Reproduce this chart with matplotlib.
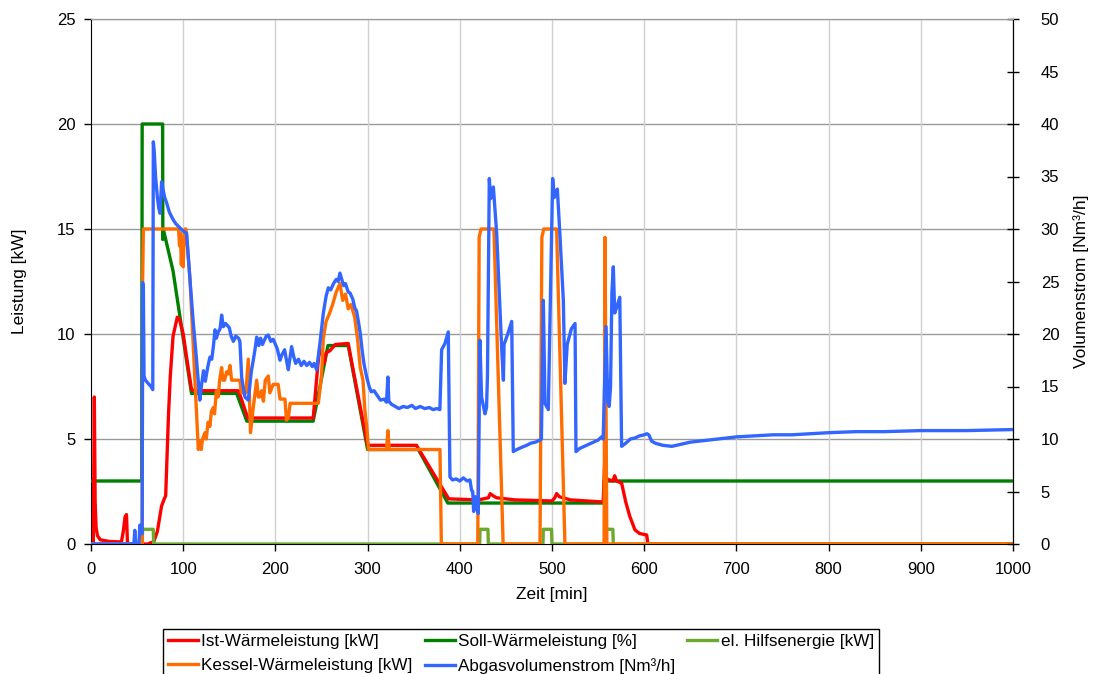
import matplotlib
matplotlib.use("Agg")
import matplotlib.pyplot as plt

plt.rcParams['font.family'] = ['Liberation Sans', 'DejaVu Sans']
plt.rcParams['font.size'] = 12

# Ist-Wärmeleistung [kW]
ist_t = [0, 2.5, 3.6, 4.5, 5.5, 7, 10, 20, 33, 35, 37, 38.5, 39.5, 41, 62, 64, 68, 72, 76.5, 79, 81, 84,
         86, 89, 93.6, 96, 100, 104, 109, 112, 160, 170, 241, 246, 248, 251, 253, 255, 259, 265, 279, 283,
         300, 353, 388, 420, 431, 433, 436, 440, 460, 500, 503, 505, 508, 520, 555.5, 557, 559, 566, 568,
         570, 575.5, 580, 584.5, 590, 595, 602.7, 604, 1000]
ist_v = [0, 0, 7.0, 2.0, 0.8, 0.4, 0.2, 0.12, 0.1, 0.6, 1.3, 1.4, 0.1, 0, 0, 0.05, 0.1, 0.6, 1.8, 2.1, 2.3, 6.1,
         8.0, 9.9, 10.8, 10.7, 10.0, 8.8, 7.35, 7.3, 7.3, 6.0, 6.0, 8.5, 9.3, 9.0, 8.6, 9.1, 9.2, 9.5, 9.55, 8.6,
         4.7, 4.7, 2.15, 2.1, 2.2, 2.4, 2.3, 2.2, 2.1, 2.05, 2.2, 2.4, 2.25, 2.1, 2.0, 3.7, 3.1, 3.0, 3.25,
         3.0, 2.9, 2.0, 1.3, 0.67, 0.5, 0.43, 0, 0]

# Soll-Wärmeleistung [%]
soll_t = [0, 55, 55.5, 77.7, 77.9, 78.4, 89, 109, 158, 169, 241, 257, 279, 300, 355, 387, 556, 556.5, 1000]
soll_v = [3, 3, 20, 20, 14.5, 15.0, 13.0, 7.17, 7.17, 5.85, 5.85, 9.45, 9.45, 4.5, 4.5, 1.95, 1.95, 3.0, 3.0]

# el. Hilfsenergie [kW]
hilf_t = [0, 55.5, 56, 67.5, 68, 421.5, 422, 430.5, 431, 490.2, 490.6, 499.5, 500, 558.5, 559, 566, 566.5, 1000]
hilf_v = [0, 0, 0.7, 0.7, 0, 0, 0.7, 0.7, 0, 0, 0.7, 0.7, 0, 0, 0.7, 0.7, 0, 0]

# Kessel-Wärmeleistung [kW]
kessel_t = [0, 55.5, 56, 56.8, 95, 96, 97, 98, 99, 100, 101, 102, 103, 107.4, 116.4, 118, 119.5, 121,
            123.6, 125, 127, 129, 130.5, 132.7, 134, 136, 138, 139.5, 141.7, 143, 145, 147, 149, 150.8,
            152.5, 161.6, 163, 168, 170.6, 173, 176, 179.7, 181.5, 183, 185, 187, 189, 192.3, 194, 197.6,
            203, 205, 210.4, 212, 214, 216, 246.6, 250, 252, 255, 258, 262, 266, 270, 273, 276, 279, 282,
            286, 289, 292, 295, 297, 299, 301, 320.5, 322, 323.5, 378.5, 380, 419.5, 421, 423, 437, 447,
            487, 489, 491, 505, 514, 556.5, 557.5, 559.5, 1000]
kessel_v = [0, 0, 12.5, 15, 15, 14.2, 14.8, 13.3, 14.5, 13.2, 14.8, 15, 15, 12.6, 4.5, 4.9, 4.5, 5.0,
            5.3, 5.0, 5.8, 5.6, 6.3, 6.5, 6.2, 7.3, 7.0, 7.8, 8.4, 7.8, 7.8, 8.2, 8.1, 8.5,
            7.8, 7.8, 7.2, 7.2, 8.8, 5.3, 6.5, 7.8, 7.0, 7.0, 7.3, 6.8, 7.8, 8.0, 7.2, 7.6,
            7.6, 6.9, 6.9, 5.9, 6.0, 6.7, 6.7, 8.0, 9.8, 10.6, 10.9, 11.4, 12.0, 12.4, 11.6, 11.9, 11.2, 11.4,
            10.8, 9.8, 8.4, 7.8, 6.4, 5.6, 4.5, 4.5, 5.4, 4.5, 4.5, 0, 0, 14.6, 15, 15, 0,
            0, 14.6, 15, 15, 0, 0, 14.6, 0, 0]

# Abgasvolumenstrom [Nm³/h]
abgas_t = [0, 46.5, 47.5, 48.5, 52, 53, 54.5, 55.5, 56, 56.8, 57.5, 59, 62, 65, 67, 67.6, 68.5, 70, 72,
           73.5, 74.8, 76.6, 78, 80, 82, 85, 89, 92, 96.5, 100, 103.7, 107.4, 111, 114.5, 118, 120, 122,
           124, 125.5, 127, 129, 131, 132.7, 134.5, 136, 138, 140, 141.7, 143.5, 146, 148, 150, 152,
           154.4, 157, 160, 161.5, 163.4, 165, 167, 170.6, 172.5, 174, 176, 178, 179.7, 182, 184, 186,
           188, 190, 192.3, 195, 197.6, 200, 202, 205, 207, 210, 212, 214, 215.5, 217.6, 220, 222, 225,
           228, 231, 234, 237, 240, 242, 244.7, 248.3, 252, 255, 257.4, 260, 263, 266, 268, 270, 272,
           274, 276, 279, 281, 284, 286, 288, 290, 292, 294, 296, 299, 302, 304, 307, 310, 314, 318,
           320.5, 322, 323, 326, 330, 334, 338.7, 343, 348, 352, 357, 362, 367, 371, 375, 378.4, 380.3,
           383.9, 387.5, 389.3, 392, 396, 400, 403.8, 408, 411, 412.8, 414, 415, 417, 418.5, 420, 421.8,
           423.6, 427.3, 429, 430, 432, 433.5, 434.5, 436.4, 440, 443.6, 445.5, 447.3, 448, 452, 456.3,
           458, 462, 467, 472.5, 477, 482, 487, 488.5, 490.6, 492.4, 496, 498, 500.7, 502.5, 503.5,
           505.8, 508.5, 512.3, 514, 516.5, 521, 525, 526, 530, 535, 540, 545, 550, 553.8, 555.5, 558.6,
           560.5, 562, 563.5, 565, 566.5, 568, 570, 573.5, 575.5, 580, 585, 590, 595, 600, 603, 605,
           608, 612, 620, 630, 640, 650, 660, 670, 680, 690, 700, 720, 740, 760, 780, 800, 830, 860,
           900, 950, 1000]
abgas_v = [0, 0, 1.3, 0, 0, 1.8, 1.2, 1.0, 24.9, 24.5, 16.0, 15.6, 15.3, 15.0, 14.7, 38.3, 37.5, 35, 33,
           32, 31.5, 34.5, 33.8, 33.0, 32.5, 31.6, 30.9, 30.5, 30.1, 29.8, 29.6, 25.1, 21.0, 17.5, 13.7, 15.2, 16.5,
           15.5, 16.3, 17.0, 17.8, 17.6, 18.8, 20.4, 19.6, 20.2, 20.5, 21.8, 20.7, 21.0, 20.8, 20.6, 19.8,
           19.3, 19.8, 19.6, 19.3, 15.9, 15.0, 14.0, 13.7, 15.3, 16.5, 17.5, 18.6, 19.7, 18.9, 19.6, 19.0,
           19.4, 19.8, 19.9, 19.3, 19.5, 19.0, 18.6, 17.5, 18.0, 18.5, 17.5, 16.6, 17.5, 18.8, 17.8, 17.2, 17.6,
           17.0, 17.4, 17.0, 17.3, 16.9, 17.2, 16.6, 19.1, 22.0, 23.6, 24.4, 24.2, 24.8, 25.2, 25.0, 25.8, 25.2,
           24.6, 24.8, 24.0, 23.9, 23.3, 22.5, 22.2, 21.2, 20.1, 18.5, 17.2, 15.9, 14.9, 14.5, 14.6, 14.2, 13.7, 13.8,
           13.5, 15.9, 13.6, 13.3, 13.1, 12.9, 13.1, 13.0, 13.2, 12.9, 13.1, 12.9, 13.0, 12.8, 12.9, 12.8, 18.5,
           19.1, 20.2, 6.4, 6.1, 6.2, 6.0, 6.3, 6.0, 6.1, 5.1, 5.0, 3.1, 4.5, 3.4, 2.9, 19.4,
           14.0, 12.4, 13.0, 16.0, 34.8, 32.9, 33.5, 34.0, 29.6, 22.3, 18.5, 15.6, 19.0, 20.0, 21.2,
           8.8, 9.0, 9.2, 9.4, 9.6, 9.7, 9.9, 10.0, 23.2, 13.4, 12.8, 22.0, 34.8, 33.0, 33.3,
           33.8, 29.6, 23.2, 15.3, 19.0, 20.5, 21.0, 8.8, 9.1, 9.3, 9.5, 9.7, 9.9, 10.2, 10.0, 20.7,
           13.5, 13.1, 15.0, 24.0, 26.4, 22.0, 22.5, 23.5, 9.3, 9.6, 10.0, 10.1, 10.3, 10.4, 10.5, 10.4,
           9.8, 9.6, 9.4, 9.3, 9.5, 9.7, 9.8, 9.9, 10.0, 10.1, 10.2, 10.3, 10.4, 10.4, 10.5, 10.6, 10.7, 10.7,
           10.8, 10.8, 10.9]

W, H = 1093, 674
fig = plt.figure(figsize=(W / 100, H / 100), dpi=100)
ax = fig.add_axes([91 / W, 1 - 544 / H, (1013 - 91) / W, (544 - 19) / H])
ax2 = ax.twinx()

lw = 2.4
l_soll, = ax.plot(soll_t, soll_v, color='#008000', lw=lw, label='Soll-Wärmeleistung [%]', zorder=3)
l_ist, = ax.plot(ist_t, ist_v, color='#FF0000', lw=lw, label='Ist-Wärmeleistung [kW]', zorder=4)
l_hilf, = ax.plot(hilf_t, hilf_v, color='#6BAA2E', lw=lw, label='el. Hilfsenergie [kW]', zorder=5)
l_kessel, = ax.plot(kessel_t, kessel_v, color='#FF6D00', lw=lw, label='Kessel-Wärmeleistung [kW]', zorder=6)
l_abgas, = ax2.plot(abgas_t, abgas_v, color='#3366FF', lw=lw, label='Abgasvolumenstrom [Nm³/h]')

ax.set_xlim(0, 1000)
ax.set_ylim(0, 25)
ax2.set_ylim(0, 50)
ax.set_xticks(range(0, 1001, 100))
ax.set_yticks(range(0, 26, 5))
ax2.set_yticks(range(0, 51, 5))

for y in range(5, 26, 5):
    ax.axhline(y, color='#999999', lw=1, zorder=1)
for x in range(100, 1001, 100):
    ax.axvline(x, color='#D0D0D0', lw=1, zorder=1)

ax.tick_params(axis='x', direction='out', length=5, width=1, labelsize=12, pad=8)
ax.tick_params(axis='y', direction='out', length=5, width=1, labelsize=12, pad=6)
ax2.tick_params(axis='y', direction='inout', length=8, width=1, labelsize=12, pad=16)
for s in ['left', 'bottom']:
    ax.spines[s].set_color('black')
ax2.spines['right'].set_color('black')
ax2.spines['top'].set_color('#999999')
ax.spines['top'].set_color('#999999')
ax2.spines['left'].set_visible(False)
ax2.spines['bottom'].set_visible(False)

ax.set_xlabel('Zeit [min]', fontsize=12.5, labelpad=7)
ax.set_ylabel('Leistung [kW]', fontsize=12.5, labelpad=22)
ax2.set_ylabel('Volumenstrom [Nm³/h]', fontsize=12.5, labelpad=10)

handles = [l_ist, l_kessel, l_soll, l_abgas, l_hilf]
fig.legend(handles, [h.get_label() for h in handles], ncol=3, loc='upper left',
           bbox_to_anchor=(163 / W, 1 - 629 / H), borderaxespad=0, fontsize=12.3, frameon=True,
           fancybox=False, edgecolor='black', framealpha=1, handlelength=1.75, handletextpad=0.2,
           columnspacing=0.7, borderpad=0.3, labelspacing=0.5)

fig.savefig('out.png', dpi=100)
